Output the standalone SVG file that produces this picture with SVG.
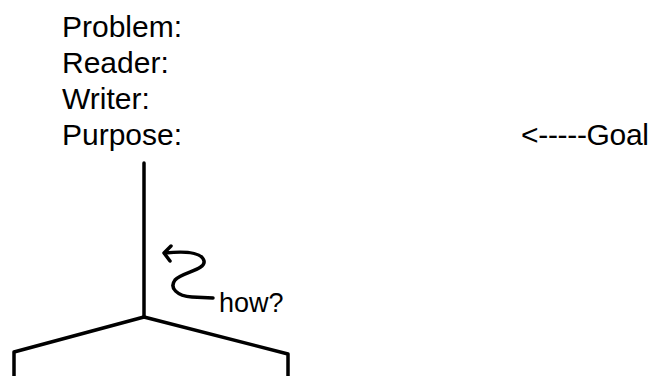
<svg xmlns="http://www.w3.org/2000/svg" width="652" height="376" viewBox="0 0 652 376">
  <style>
    .lbl { font-family: "Liberation Sans", Arial, Helvetica, sans-serif; font-size: 30px; fill: #000; }
    .small { font-size: 27px; }
    .stroke { fill: none; stroke: #000; stroke-width: 3.5; stroke-linecap: round; stroke-linejoin: round; }
  </style>
  <rect width="652" height="376" fill="#fff"/>

  <!-- rhetorical problem fields -->
  <g id="problem"><text class="lbl" x="62" y="37">Problem:</text></g>
  <g id="reader"><text class="lbl" x="62" y="73">Reader:</text></g>
  <g id="writer"><text class="lbl" x="62" y="109">Writer:</text></g>
  <g id="purpose"><text class="lbl" x="62" y="145">Purpose:</text></g>
  <g id="goal"><text class="lbl" x="521" y="145" textLength="128" lengthAdjust="spacing">&lt;-----Goal</text></g>

  <!-- tree branching down from the purpose -->
  <g id="connectors">
    <path class="stroke" d="M144,163 L144,317"/>
    <path class="stroke" d="M144,317 L14,352 L14,380"/>
    <path class="stroke" d="M144,317 L288,354 L288,380"/>
  </g>

  <!-- "how?" annotation with curly arrow -->
  <g id="how">
    <path class="stroke" d="M213,298 L192,297 C177,296 169,288 175,280 C182,272 206,270 204,261 C202,252 185,251 165,253"/>
    <path class="stroke" d="M171,246 L164,253 L170,261"/>
    <text class="lbl small" x="219" y="312">how?</text>
  </g>
</svg>
